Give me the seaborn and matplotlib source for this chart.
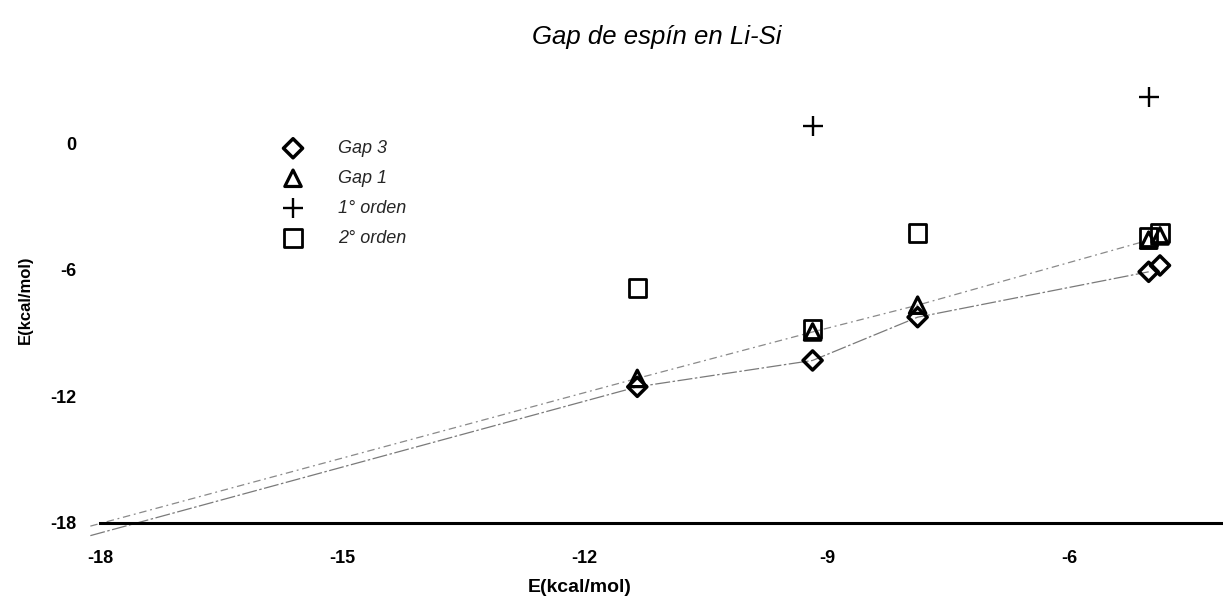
import warnings
import matplotlib
matplotlib.use("Agg")
import matplotlib.pyplot as plt
import seaborn as sns

warnings.filterwarnings("ignore")

# Energies (kcal/mol)
x_pts = [-11.35, -9.18, -7.88, -5.02, -4.88]
gap3 = [-11.55, -10.3, -8.25, -6.1, -5.8]
gap1 = [-11.15, -8.95, -7.68, -4.6, -4.4]
orden2 = [-6.87, -8.8, -4.25, -4.45, -4.25]
x_orden1 = [-9.18, -5.02]
orden1 = [0.8, 2.2]

# Trend lines (start point plus the series points)
x_line = [-18.12, -11.35, -9.18, -7.88, -5.02]
line_gap3 = [-18.6, -11.55, -10.3, -8.25, -6.1]
line_gap1 = [-18.15, -11.15, -8.95, -7.68, -4.6]

x_ticks = [-18, -15, -12, -9, -6]
y_ticks = [0, -6, -12, -18]

sns.set_theme(style="white")
plt.rcParams["font.family"] = ["Liberation Sans", "DejaVu Sans"]

fig = plt.figure(figsize=(12.23, 6), dpi=100)
ax = fig.add_axes([0.0719, 0.0932, 0.9281, 0.8091])

sns.lineplot(x=x_line, y=line_gap1, sort=False, estimator=None, ax=ax,
             color="#8a8a8a", linewidth=0.9, linestyle=(0, (6, 3, 1.5, 3)), zorder=1)
sns.lineplot(x=x_line, y=line_gap3, sort=False, estimator=None, ax=ax,
             color="#7a7a7a", linewidth=0.9, linestyle=(0, (12, 2, 2, 2)), zorder=1)

sns.scatterplot(x=x_pts, y=gap3, marker="D", s=95, facecolor="none",
                edgecolor="black", linewidth=2.5, ax=ax, label="Gap 3", zorder=3)
sns.scatterplot(x=x_pts, y=gap1, marker="^", s=140, facecolor="none",
                edgecolor="black", linewidth=2.3, ax=ax, label="Gap 1", zorder=3)
sns.scatterplot(x=x_orden1, y=orden1, marker="+", s=210, color="black",
                linewidth=1.7, ax=ax, label="1° orden", zorder=3)
sns.scatterplot(x=x_pts, y=orden2, marker="s", s=160, facecolor="none",
                edgecolor="black", linewidth=2.0, ax=ax, label="2° orden", zorder=3)

ax.set_xlim(-18.15, -4.10)
ax.set_ylim(-19, 4)

for side in ["top", "right", "left"]:
    ax.spines[side].set_visible(False)
ax.spines["bottom"].set_position(("data", -18))
ax.spines["bottom"].set_bounds(-18, -4.10)
ax.spines["bottom"].set_linewidth(2.2)
ax.spines["bottom"].set_color("black")

ax.set_xticks(x_ticks)
ax.set_xticklabels([str(v) for v in x_ticks])
ax.set_yticks(y_ticks)
ax.set_yticklabels([str(v) for v in y_ticks])
ax.tick_params(axis="x", direction="inout", length=11, width=1.5, color="black",
               pad=14, labelsize=13)
ax.tick_params(axis="y", length=0, pad=8, labelsize=13)
for lab in ax.get_xticklabels() + ax.get_yticklabels():
    lab.set_fontweight("bold")
    lab.set_color("black")
ax.set_xlabel("")
ax.set_ylabel("")
ax.grid(False)

fig.text(580 / 1223, 1 - 588 / 600, "E(kcal/mol)", ha="center", va="center",
         fontsize=14, fontweight="bold", color="black")
fig.text(25 / 1223, 0.5, "E(kcal/mol)", ha="center", va="center", rotation=90,
         fontsize=12, fontweight="bold", color="black")
fig.text(657 / 1223, 1 - 37 / 600, "Gap de espín en Li-Si", ha="center", va="center",
         fontsize=18.5, fontstyle="italic", color="black")

handles, labels = ax.get_legend_handles_labels()
ax.legend(handles, labels, loc="upper left", bbox_to_anchor=(284 / 1223, 1 - 140 / 600),
          bbox_transform=fig.transFigure, frameon=False, borderpad=0, borderaxespad=0,
          handlelength=1.0, handletextpad=2.0, labelspacing=0.72,
          prop={"style": "italic", "size": 13})

fig.savefig("out.png", dpi=100, facecolor="white")
